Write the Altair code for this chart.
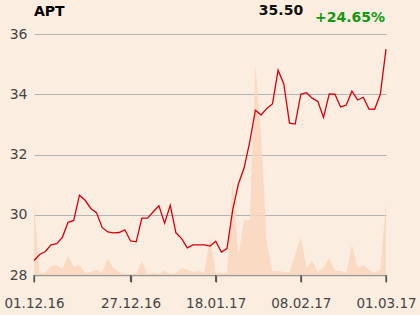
import altair as alt
import pandas as pd

# trading-day index positions
price = [28.48, 28.68, 28.78, 29.0, 29.04, 29.25, 29.75, 29.81, 30.65, 30.48,
         30.21, 30.07, 29.58, 29.43, 29.4, 29.41, 29.5, 29.13, 29.1, 29.89,
         29.89, 30.1, 30.3, 29.72, 30.31, 29.4, 29.21, 28.9, 29.0, 29.0,
         29.0, 28.96, 29.12, 28.76, 28.88, 30.16, 31.02, 31.55, 32.42, 33.47,
         33.31, 33.53, 33.68, 34.8, 34.34, 33.04, 33.01, 34.0, 34.05, 33.87,
         33.76, 33.23, 34.01, 34.0, 33.58, 33.64, 34.1, 33.81, 33.9, 33.51,
         33.5, 34.0, 35.5]
volume = [72, 2, 2, 9, 10, 6, 19, 8, 10, 2,
          3, 5, 2, 16, 7, 3, 1, 1, 1, 14,
          1, 2, 1, 4, 1, 2, 7, 5, 3, 4,
          2, 38, 2, 2, 2, 95, 20, 55, 55, 210,
          140, 32, 4, 4, 3, 3, 20, 38, 7, 14,
          3, 7, 17, 4, 4, 2, 30, 7, 10, 5,
          2, 5, 72]
tick_pos = [0, 17, 32, 47, 62]
tick_labels = ["01.12.16", "27.12.16", "18.01.17", "08.02.17", "01.03.17"]
y_ticks = [28, 30, 32, 34, 36]
header = ["APT", "35.50", "+24.65%"]

df = pd.DataFrame({"i": list(range(len(price))), "price": price, "volume": volume})
ticks_df = pd.DataFrame({"i": tick_pos, "y0": [28.0] * 5, "y1": [27.77] * 5})

expr = "''"
for p, l in zip(reversed(tick_pos), reversed(tick_labels)):
    expr = f"datum.value == {p} ? '{l}' : ({expr})"

FONT = "DejaVu Sans"
xscale = alt.Scale(domain=[0, 62], nice=False, zero=False)
xaxis = alt.Axis(values=tick_pos, labelExpr=expr, grid=False, domain=True,
                 domainColor="#999999", domainWidth=1.5, ticks=True, tickSize=7,
                 tickColor="#555555", tickWidth=1.2,
                 labelFontSize=13.5, labelColor="#444444",
                 labelFont=FONT, labelPadding=14, labelBaseline="top",
                 labelOverlap=False, labelBound=False, labelFlush=False, title=None)
X = alt.X("i:Q", scale=xscale, axis=xaxis)
pscale = alt.Scale(domain=[28, 36], nice=False, zero=False, clamp=False)

vol = alt.Chart(df).mark_area(color="#f9d6bc", opacity=0.85, interpolate="linear").encode(
    x=X,
    y=alt.Y("volume:Q", scale=alt.Scale(domain=[0, 241], nice=False), axis=None),
)

grid = alt.Chart(df).mark_line(opacity=0).encode(
    x=X,
    y=alt.Y("price:Q", scale=pscale,
            axis=alt.Axis(values=y_ticks, grid=True, gridColor="#b4b4b4", domain=False,
                          ticks=False, labelFontSize=14, labelColor="#444444",
                          labelFont=FONT, labelPadding=7, title=None)),
)

tick_marks = alt.Chart(ticks_df).mark_rule(color="#555555", strokeWidth=1.2, clip=False).encode(
    x=X, y=alt.Y("y0:Q", scale=pscale, axis=None), y2="y1:Q")

line = alt.Chart(df).mark_line(color="#d8000c", strokeWidth=1.3).encode(
    x=X,
    y=alt.Y("price:Q", scale=pscale, axis=None),
)

def txt(s, x, y, color, align):
    return alt.Chart(pd.DataFrame({"t": [s]})).mark_text(
        font=FONT, fontSize=14, fontWeight="bold", color=color, align=align,
        baseline="alphabetic").encode(text="t:N", x=alt.value(x), y=alt.value(y))

t_apt = txt(header[0], 0, -18, "#000000", "left")
t_last = txt(header[1], 247, -19, "#111111", "center")
t_chg = txt(header[2], 351, -12, "#119911", "right")

bg = alt.layer(grid, vol).resolve_scale(y="independent")
chart = alt.layer(bg, tick_marks, line, t_apt, t_last, t_chg).resolve_scale(y="independent").properties(
    width=352, height=241, background="#fcede1",
    padding={"left": 34, "top": 34, "right": 34, "bottom": 40},
    autosize=alt.AutoSizeParams(type="none"),
).configure_view(stroke=None)

chart.save("out.html", embed_options={"renderer": "svg", "actions": False})
